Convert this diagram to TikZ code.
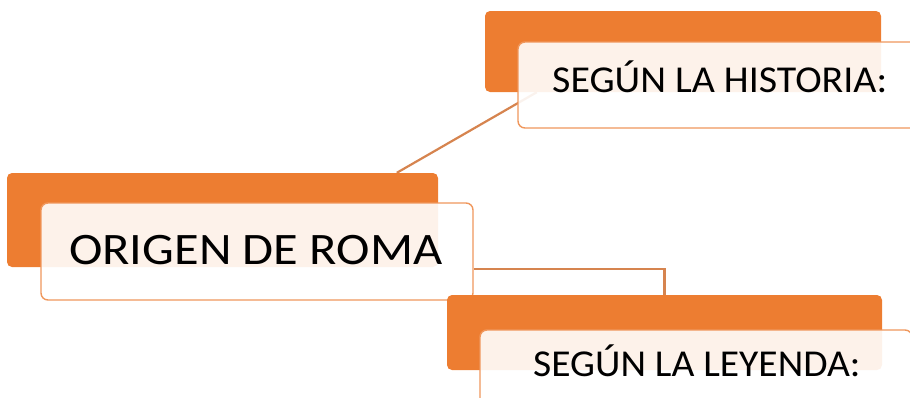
\documentclass[tikz,border=0pt]{standalone}
\usepackage{fontspec}
\setmainfont{Carlito}
\usetikzlibrary{calc,backgrounds}
\definecolor{acc}{HTML}{ED7D31}
\definecolor{bord}{HTML}{F0975C}
\definecolor{connc}{HTML}{D6844F}
\begin{document}
\begin{tikzpicture}[x=1pt,y=-1pt,
  backbox/.style={fill=acc, draw=none, rounded corners=5pt, inner sep=0pt},
  frontbox/.style={fill=white, fill opacity=0.9, draw=bord, line width=1.4pt, rounded corners=7pt, inner sep=0pt},
  lbl/.style={anchor=base west, inner sep=0pt, text=black, font=\fontsize{38}{40}\selectfont},
  conn/.style={draw=connc, line width=2.2pt}]
\useasboundingbox (0,0) rectangle (910,397);
\clip (0,0) rectangle (910,397);
% main group
\node[backbox, minimum width=431pt, minimum height=94pt] (mb) at (222.5,220) {};
\node[frontbox, minimum width=432pt, minimum height=97pt] (mf) at (257,251.5) {};
% top group
\node[backbox, minimum width=396pt, minimum height=81pt] (tb) at (683,51.5) {};
\node[frontbox, minimum width=432pt, minimum height=86pt] (tf) at (734,85) {};
% bottom group
\node[backbox, minimum width=435pt, minimum height=75pt] (bb) at (664.5,332.5) {};
\node[frontbox, minimum width=432pt, minimum height=86pt] (bf) at (696,373) {};
% texts
\node[lbl, font=\fontsize{45}{50}\selectfont] (mt) at (69,264) {\scalebox{1.12}[1]{ORIGEN DE ROMA}};
\node[lbl] (tt) at (552,92) {\scalebox{1.05}[1]{SEGÚN LA HISTORIA:}};
\node[lbl] (bt) at (533,376) {\scalebox{1.04}[1]{SEGÚN LA LEYENDA:}};
% connectors
\coordinate (c1a) at ($(mb.north west)+(390,0)$);
\coordinate (c1b) at ($(tb.south west)+(52,0)$);
\coordinate (c2a) at ($(mf.east)+(0,17.5)$);
\begin{scope}[on background layer]
\draw[conn] (c1a) -- (c1b);
\draw[conn] (c2a) -| (bb.north);
\end{scope}
\end{tikzpicture}
\end{document}
